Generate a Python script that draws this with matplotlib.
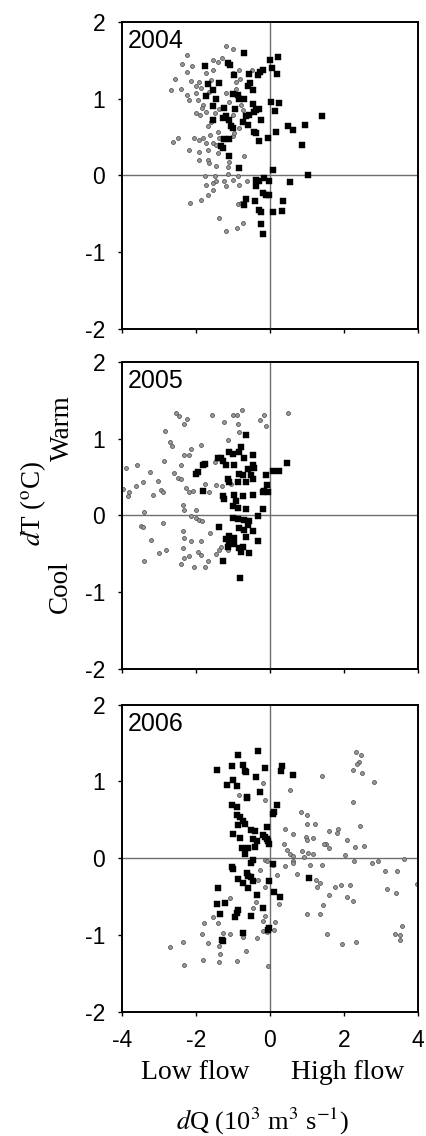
import numpy as np
import matplotlib
matplotlib.use("Agg")
import matplotlib.pyplot as plt

plt.rcParams["font.family"] = ["Liberation Sans", "DejaVu Sans"]
plt.rcParams["mathtext.fontset"] = "stix"
plt.rcParams["axes.unicode_minus"] = False

SERIF = ["Liberation Serif", "DejaVu Serif"]

# ---- data: (dQ, dT) pairs ---------------------------------------------------
YEARS = ["2004", "2005", "2006"]

sq_2004 = [(-0.69, 1.59), (0.00, 1.50), (0.21, 1.54), (-1.77, 1.42), (-1.14, 1.46), (-1.08, 1.44),
           (0.05, 1.40), (-0.20, 1.37), (-0.26, 1.34), (-0.33, 1.30), (-0.58, 1.32), (-0.96, 1.30),
           (0.19, 1.32), (-1.68, 1.19), (-1.37, 1.20), (-0.54, 1.20), (-0.60, 1.16), (-1.55, 1.11),
           (-0.47, 1.11), (-1.73, 1.03), (-1.46, 0.99), (-1.01, 1.06), (-0.87, 1.04), (-0.85, 0.99),
           (-0.69, 1.00), (0.03, 0.96), (0.25, 0.94), (0.14, 0.84), (-0.47, 0.93), (-0.42, 0.83),
           (-0.38, 0.85), (-0.31, 0.87), (-1.55, 0.90), (-1.23, 0.88), (-0.94, 0.87), (-0.56, 0.79),
           (-0.65, 0.77), (-0.24, 0.72), (-1.55, 0.72), (-1.28, 0.74), (-1.19, 0.77), (-1.10, 0.72),
           (-0.74, 0.70), (-0.60, 0.66), (-1.05, 0.64), (-1.01, 0.62), (-0.42, 0.57), (-0.38, 0.55),
           (0.16, 0.56), (0.48, 0.64), (0.61, 0.59), (0.95, 0.66), (1.41, 0.77), (-0.06, 0.48),
           (-0.29, 0.45), (-1.23, 0.47), (-1.12, 0.47), (-1.32, 0.38), (-1.26, 0.35), (0.86, 0.40),
           (-1.10, 0.25), (-0.83, 0.09), (0.07, 0.07), (1.02, 0.00), (-0.38, -0.06), (-0.29, -0.07),
           (-0.15, -0.03), (-0.02, -0.07), (0.54, -0.09), (-0.38, -0.14), (-0.20, -0.23), (-0.11, -0.26),
           (-0.04, -0.25), (-0.65, -0.31), (-0.40, -0.34), (0.34, -0.33), (-0.69, -0.39), (-0.29, -0.45),
           (-0.24, -0.48), (0.07, -0.48), (0.32, -0.46), (-0.24, -0.63), (-0.20, -0.76)]

ci_2004 = [(-1.19, 1.68), (-1.01, 1.65), (-2.24, 1.57), (-2.38, 1.45), (-2.11, 1.42), (-2.24, 1.35),
           (-1.55, 1.50), (-1.41, 1.48), (-1.30, 1.53), (-2.56, 1.26), (-2.41, 1.13), (-2.68, 1.11),
           (-2.14, 1.23), (-1.93, 1.22), (-2.00, 1.16), (-1.86, 1.14), (-1.73, 1.33), (-1.59, 1.24),
           (-1.55, 1.37), (-1.01, 1.33), (-0.92, 1.22), (-0.85, 1.37), (-0.81, 1.26), (-0.49, 1.37),
           (-2.23, 1.05), (-2.18, 0.98), (-2.00, 1.07), (-1.95, 0.98), (-1.82, 0.92), (-1.84, 0.88),
           (-1.64, 1.09), (-1.73, 0.83), (-1.48, 0.81), (-1.37, 0.87), (-1.19, 1.07), (-1.10, 0.96),
           (-0.92, 1.13), (-0.78, 0.92), (-0.74, 0.85), (-2.00, 0.81), (-1.88, 0.79), (-1.59, 0.70),
           (-1.68, 0.64), (-1.01, 0.79), (-2.63, 0.44), (-2.50, 0.48), (-2.05, 0.48), (-1.93, 0.46),
           (-1.80, 0.49), (-1.73, 0.42), (-1.62, 0.53), (-1.55, 0.42), (-1.41, 0.57), (-1.37, 0.48),
           (-1.01, 0.51), (-0.96, 0.55), (-0.83, 0.61), (-2.18, 0.33), (-1.91, 0.31), (-1.68, 0.33),
           (-1.46, 0.40), (-1.41, 0.29), (-1.91, 0.20), (-1.68, 0.20), (-1.64, 0.16), (-1.46, 0.12),
           (-1.10, 0.18), (-1.14, 0.11), (-0.69, 0.25), (-1.77, -0.01), (-1.50, -0.01), (-1.14, 0.02),
           (-0.86, -0.01), (-1.01, -0.06), (-1.73, -0.12), (-1.55, -0.10), (-1.46, -0.08), (-1.23, -0.08),
           (-0.85, -0.13), (-0.63, -0.08), (-1.19, -0.14), (-1.86, -0.32), (-1.68, -0.25), (-1.55, -0.19),
           (-2.16, -0.36), (-0.87, -0.37), (-0.78, -0.36), (-1.37, -0.55), (-1.19, -0.73), (-0.90, -0.68),
           (-0.72, -0.62)]

sq_2005 = [(-0.65, 1.04), (-0.78, 0.89), (-0.85, 0.82), (-0.47, 0.78), (-1.10, 0.83), (-1.01, 0.80),
           (-1.32, 0.74), (-1.41, 0.74), (-1.28, 0.71), (-1.77, 0.67), (-1.82, 0.65), (-1.19, 0.65),
           (-0.96, 0.65), (-0.69, 0.74), (-0.47, 0.65), (-0.42, 0.61), (-0.60, 0.60), (-0.51, 0.52),
           (-0.83, 0.54), (-0.74, 0.52), (-1.95, 0.56), (-2.00, 0.54), (-1.14, 0.47), (-1.10, 0.44),
           (-0.87, 0.43), (-0.65, 0.43), (-0.47, 0.47), (-0.11, 0.52), (0.07, 0.58), (0.25, 0.58),
           (0.45, 0.68), (-0.09, 0.40), (-0.15, 0.32), (-0.06, 0.30), (-0.20, 0.30), (-1.28, 0.25),
           (-1.23, 0.21), (-0.96, 0.27), (-0.92, 0.19), (-0.74, 0.25), (-0.47, 0.27), (-1.82, 0.32),
           (-1.01, 0.12), (-0.87, 0.10), (-0.65, 0.08), (-0.18, 0.08), (-0.33, -0.01), (-1.01, -0.04),
           (-0.87, -0.05), (-0.69, -0.06), (-0.56, -0.08), (-0.60, -0.12), (-1.39, -0.15), (-0.83, -0.17),
           (-0.69, -0.19), (-0.47, -0.20), (-1.10, -0.27), (-0.96, -0.30), (-1.19, -0.31), (-1.10, -0.33),
           (-0.65, -0.28), (-0.33, -0.33), (-0.96, -0.37), (-0.83, -0.42), (-0.74, -0.41), (-0.78, -0.48),
           (-0.56, -0.49), (-1.14, -0.41), (-1.26, -0.59), (-0.81, -0.81)]

ci_2005 = [(-2.54, 1.33), (-2.45, 1.29), (-2.23, 1.26), (-2.32, 1.19), (-1.58, 1.30), (-1.01, 1.31),
           (-0.90, 1.31), (-0.76, 1.37), (-1.23, 1.22), (-0.87, 1.19), (-0.83, 1.09), (-0.15, 1.30),
           (-0.11, 1.16), (-0.27, 1.24), (0.48, 1.33), (-2.84, 1.10), (-1.14, 0.98), (-2.70, 0.96),
           (-2.66, 0.90), (-2.14, 0.87), (-1.86, 0.91), (-2.32, 0.78), (-2.18, 0.79), (-2.86, 0.71),
           (-2.59, 0.55), (-3.60, 0.65), (-3.89, 0.61), (-3.24, 0.57), (-3.44, 0.43), (-3.04, 0.45),
           (-3.96, 0.34), (-3.80, 0.30), (-3.62, 0.38), (-3.85, 0.25), (-3.17, 0.27), (-2.95, 0.33),
           (-2.90, 0.30), (-2.41, 0.65), (-2.50, 0.49), (-2.41, 0.47), (-2.27, 0.36), (-2.18, 0.30),
           (-2.09, 0.32), (-1.75, 0.41), (-1.64, 0.30), (-1.50, 0.69), (-1.46, 0.40), (-1.30, 0.38),
           (-1.05, 0.41), (-2.36, 0.14), (-2.32, 0.07), (-2.00, 0.07), (-2.14, -0.01), (-2.00, -0.04),
           (-1.91, -0.06), (-1.85, -0.08), (-3.40, 0.04), (-3.49, -0.14), (-3.42, -0.15), (-3.22, -0.32),
           (-2.88, -0.10), (-2.36, -0.20), (-2.33, -0.30), (-2.14, -0.34), (-1.86, -0.33), (-1.62, -0.23),
           (-2.99, -0.49), (-2.81, -0.45), (-3.40, -0.59), (-2.36, -0.43), (-2.33, -0.55), (-2.41, -0.63),
           (-2.20, -0.53), (-1.95, -0.48), (-1.86, -0.52), (-1.68, -0.59), (-1.77, -0.67), (-2.05, -0.67),
           (-1.46, -0.50), (-1.37, -0.45), (-1.32, -0.41), (-1.14, -0.45)]

sq_2006 = [(-0.32, 1.40), (-0.86, 1.34), (-1.42, 1.15), (-1.04, 1.20), (-0.74, 1.21), (-0.68, 1.14),
           (-0.65, 1.12), (-0.14, 1.18), (0.32, 1.20), (0.29, 1.14), (0.63, 1.09), (-0.38, 1.06),
           (-0.99, 1.02), (-1.17, 0.96), (-0.90, 0.94), (-0.27, 0.86), (-0.63, 0.80), (-0.61, 0.78),
           (-1.04, 0.69), (-0.88, 0.67), (0.18, 0.70), (0.11, 0.60), (0.07, 0.58), (-0.88, 0.56),
           (-0.81, 0.54), (-0.72, 0.48), (-0.68, 0.45), (-0.86, 0.43), (-0.99, 0.32), (-0.81, 0.26),
           (-0.50, 0.37), (-0.41, 0.36), (-0.09, 0.41), (-0.45, 0.25), (-0.36, 0.22), (-0.18, 0.30),
           (-0.14, 0.28), (-0.09, 0.25), (-0.05, 0.22), (-0.02, 0.19), (-0.59, 0.13), (-0.41, 0.15),
           (-0.77, 0.13), (-0.68, 0.06), (-0.45, -0.02), (-0.50, -0.06), (0.09, -0.07), (-1.04, -0.11),
           (-0.99, -0.14), (-0.63, -0.19), (-0.59, -0.23), (-0.50, -0.24), (-0.86, -0.27), (-0.72, -0.32),
           (-0.45, -0.29), (-0.02, -0.29), (1.06, -0.26), (-0.59, -0.39), (-0.36, -0.48), (0.11, -0.44),
           (0.27, -0.50), (-1.40, -0.39), (-1.44, -0.60), (-1.35, -0.73), (-1.22, -0.58), (-0.86, -0.67),
           (-0.90, -0.71), (-0.95, -0.76), (-0.50, -0.75), (-0.18, -0.65), (-0.72, -0.97), (-0.02, -0.91),
           (-0.05, -0.93), (-1.31, -1.06), (-1.26, -1.08)]

ci_2006 = [(-0.18, 0.98), (0.54, 0.89), (1.40, 1.07), (-0.83, 0.82), (-0.14, 0.76), (2.32, 1.38),
           (2.45, 1.34), (2.41, 1.25), (2.36, 1.23), (2.23, 1.15), (2.48, 1.11), (2.81, 0.99),
           (2.25, 0.73), (-0.92, 0.56), (0.41, 0.38), (0.83, 0.60), (1.01, 0.57), (0.99, 0.45),
           (1.22, 0.45), (0.63, 0.32), (0.38, 0.19), (0.97, 0.28), (0.99, 0.24), (1.17, 0.27),
           (1.60, 0.36), (1.80, 0.33), (1.85, 0.38), (1.51, 0.19), (1.60, 0.14), (2.07, 0.24),
           (2.43, 0.42), (0.47, 0.11), (0.54, 0.06), (0.63, 0.03), (0.61, -0.03), (0.86, 0.10),
           (0.92, 0.02), (1.04, 0.07), (1.17, 0.06), (1.46, 0.19), (2.03, 0.04), (2.30, 0.15),
           (2.54, 0.16), (0.63, -0.06), (0.41, -0.10), (-0.14, -0.02), (-0.09, -0.04), (0.07, -0.09),
           (0.72, -0.20), (1.08, -0.09), (1.40, -0.09), (1.24, -0.28), (1.35, -0.32), (1.26, -0.37),
           (2.27, -0.03), (2.75, -0.06), (2.93, -0.03), (3.63, -0.01), (3.11, -0.17), (3.42, -0.16),
           (1.76, -0.38), (1.92, -0.35), (2.16, -0.35), (1.60, -0.48), (2.07, -0.50), (2.25, -0.56),
           (1.42, -0.61), (0.99, -0.72), (1.35, -0.72), (-0.27, -0.15), (-0.32, -0.28), (0.20, -0.22),
           (0.23, -0.60), (-0.14, -0.38), (-1.08, -0.52), (-1.53, -0.76), (-1.78, -0.84), (-1.40, -0.84),
           (-0.14, -0.75), (-0.18, -0.82), (0.14, -0.83), (0.11, -0.93), (-0.38, -0.57), (-0.45, -0.65),
           (3.15, -0.40), (3.41, -0.45), (3.96, -0.34), (1.53, -0.98), (1.94, -1.11), (2.32, -1.09),
           (3.38, -0.98), (3.51, -1.00), (3.56, -0.88), (3.51, -1.06), (-1.85, -0.98), (-1.67, -1.10),
           (-2.34, -1.09), (-2.70, -1.15), (-1.37, -1.14), (-1.35, -1.24), (-1.37, -1.35), (-1.80, -1.33),
           (-2.32, -1.39), (-0.88, -1.34), (-0.65, -1.21), (-1.28, -0.97), (-1.08, -0.98), (-0.36, -1.04),
           (-0.18, -0.95), (-0.09, -0.96), (-0.05, -1.40), (-0.72, -1.02)]

squares = [sq_2004, sq_2005, sq_2006]
circles = [ci_2004, ci_2005, ci_2006]

X_TICKS = [-4, -2, 0, 2, 4]
Y_TICKS = [-2, -1, 0, 1, 2]

# ---- layout -----------------------------------------------------------------
fig = plt.figure(figsize=(4.26, 11.36), dpi=100)
bottoms = [0.7104, 0.4111, 0.1092]
axes = []
for i, (yr, b) in enumerate(zip(YEARS, bottoms)):
    ax = fig.add_axes([0.2864, b, 0.6948, 0.2705])
    axes.append(ax)
    ax.axhline(0, color="#6e6e6e", lw=1.0, zorder=1)
    ax.axvline(0, color="#6e6e6e", lw=1.0, zorder=1)

    c = np.array(circles[i])
    ax.plot(c[:, 0], c[:, 1], "o", ms=2.8, mfc="#9a9a9a", mec="#555555", mew=0.6, zorder=2)
    s = np.array(squares[i])
    ax.plot(s[:, 0], s[:, 1], "s", ms=4.0, mfc="black", mec="black", mew=0.3, zorder=3)

    ax.set_xlim(-4, 4)
    ax.set_ylim(-2, 2)
    ax.set_xticks(X_TICKS)
    ax.set_yticks(Y_TICKS)
    ax.tick_params(direction="out", length=3, width=1, labelsize=16.5, pad=9,
                   top=False, right=False)
    if i < 2:
        ax.tick_params(axis="x", labelbottom=False)
    for sp in ax.spines.values():
        sp.set_linewidth(1.4)
    ax.text(0.02, 0.975, yr, transform=ax.transAxes, ha="left", va="top", fontsize=18)

# ---- labels -----------------------------------------------------------------
fig.text(0.458, 0.0555, "Low flow", ha="center", va="center", fontsize=20, family=SERIF)
fig.text(0.817, 0.0555, "High flow", ha="center", va="center", fontsize=20, family=SERIF)
fig.text(0.617, 0.0125, r"$\mathit{d}$Q (10$^3$ m$^3$ s$^{-1}$)", ha="center", va="center",
         fontsize=19, family=SERIF)

fig.text(0.141, 0.4833, "Cool", rotation=90, ha="center", va="center", fontsize=19.5, family=SERIF)
fig.text(0.146, 0.6232, "Warm", rotation=90, ha="center", va="center", fontsize=19.5, family=SERIF)
fig.text(0.077, 0.557, r"$\mathit{d}$T ($^{\rm o}$C)", rotation=90, ha="center", va="center",
         fontsize=19.5, family=SERIF)

fig.savefig("out.png", dpi=100)
